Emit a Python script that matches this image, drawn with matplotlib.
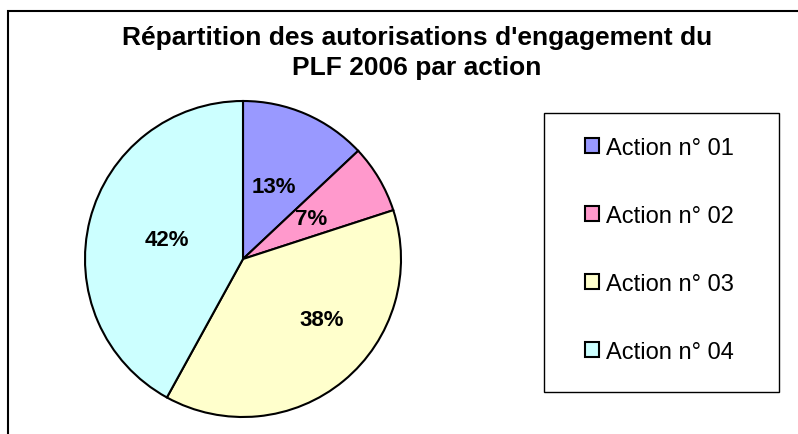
import matplotlib.pyplot as plt
from matplotlib.patches import Rectangle

labels = ['Action n° 01', 'Action n° 02', 'Action n° 03', 'Action n° 04']
values = [13, 7, 38, 42]
colors = ['#9999FF', '#FF99CC', '#FFFFCC', '#CCFFFF']
title = "Répartition des autorisations d'engagement du\nPLF 2006 par action"

plt.rcParams['font.family'] = ['Liberation Sans', 'DejaVu Sans']

W, H = 798, 435
fig = plt.figure(figsize=(W / 100, H / 100), dpi=100)

# outer frame (cut off at right/bottom like the source)
fig.patches.append(Rectangle((8 / W, -0.1), 1.2, 1 + 0.1 - 12 / H, transform=fig.transFigure,
                             fill=False, edgecolor='black', linewidth=1.5))
# legend box
fig.patches.append(Rectangle((544 / W, 1 - 393 / H), 235 / W, 279 / H, transform=fig.transFigure,
                             fill=False, edgecolor='black', linewidth=1.0))

ax = fig.add_axes([85 / W, (H - 418) / H, 316 / W, 316 / H])
wedges, texts, autotexts = ax.pie(values, colors=colors, startangle=90, counterclock=False,
                                  autopct='%1.0f%%', pctdistance=0.5,
                                  wedgeprops=dict(edgecolor='black', linewidth=1.5),
                                  textprops=dict(fontsize=16, fontweight='bold'))
ax.set_aspect('equal')
ax.set_xlim(-1.0, 1.0)
ax.set_ylim(-1.0, 1.0)
autotexts[2].set_position((0.5, -0.38))

fig.text(417 / W, 1 - 53 / H, title, ha='center', va='center', fontsize=19,
         fontweight='bold', linespacing=1.3)

leg = fig.legend(wedges, labels, loc='center left', bbox_to_anchor=(585 / W, 1 - 251 / H),
                 frameon=False, fontsize=17, labelspacing=1.95,
                 handlelength=0.6, handleheight=0.6, handletextpad=0.3,
                 borderpad=0, borderaxespad=0)

fig.savefig('out.png', dpi=100)
